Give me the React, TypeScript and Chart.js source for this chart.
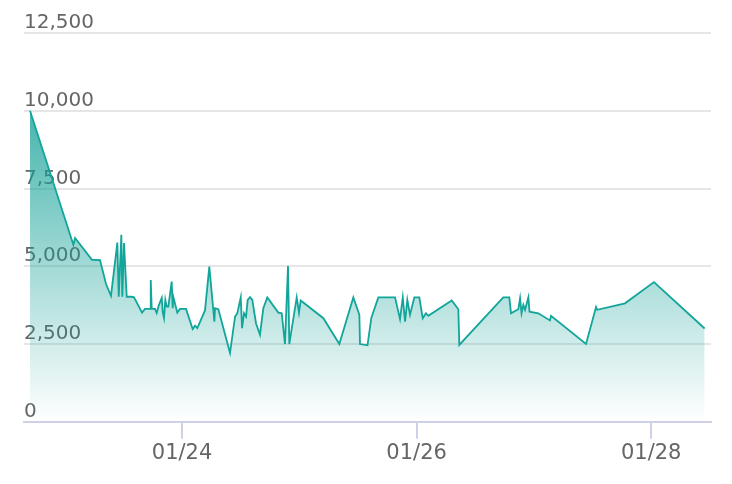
import React, { useEffect, useRef } from "react";
import { Chart, registerables } from "chart.js";

Chart.register(...registerables);

const times: string[] = [
  "2024-01-22T16:54",
  "2024-01-23T01:46", "2024-01-23T02:07", "2024-01-23T05:35", "2024-01-23T07:13", "2024-01-23T08:27",
  "2024-01-23T09:28", "2024-01-23T10:46", "2024-01-23T11:03", "2024-01-23T11:35", "2024-01-23T11:47",
  "2024-01-23T12:08", "2024-01-23T12:41", "2024-01-23T13:43", "2024-01-23T14:11", "2024-01-23T15:49",
  "2024-01-23T16:26", "2024-01-23T17:27", "2024-01-23T17:36", "2024-01-23T17:48", "2024-01-23T18:29",
  "2024-01-23T18:49", "2024-01-23T19:17", "2024-01-23T19:51", "2024-01-23T20:03", "2024-01-23T20:19",
  "2024-01-23T20:35", "2024-01-23T20:52", "2024-01-23T21:12", "2024-01-23T21:53", "2024-01-23T22:06",
  "2024-01-23T22:13", "2024-01-23T23:02", "2024-01-23T23:35",
  "2024-01-24T00:49", "2024-01-24T02:11", "2024-01-24T02:40", "2024-01-24T03:08", "2024-01-24T04:42",
  "2024-01-24T05:35", "2024-01-24T06:37", "2024-01-24T06:45", "2024-01-24T07:26", "2024-01-24T09:49",
  "2024-01-24T10:51", "2024-01-24T11:19", "2024-01-24T12:01", "2024-01-24T12:17", "2024-01-24T12:41",
  "2024-01-24T13:06", "2024-01-24T13:26", "2024-01-24T13:55", "2024-01-24T14:23", "2024-01-24T15:08",
  "2024-01-24T15:57", "2024-01-24T16:38", "2024-01-24T17:27", "2024-01-24T19:42", "2024-01-24T20:24",
  "2024-01-24T21:04", "2024-01-24T21:41", "2024-01-24T21:57", "2024-01-24T23:28", "2024-01-24T23:56",
  "2024-01-25T00:17", "2024-01-25T04:55", "2024-01-25T08:11", "2024-01-25T11:03", "2024-01-25T12:17",
  "2024-01-25T12:25", "2024-01-25T13:57", "2024-01-25T14:44", "2024-01-25T16:10", "2024-01-25T19:35",
  "2024-01-25T20:36", "2024-01-25T21:10", "2024-01-25T21:38", "2024-01-25T22:06", "2024-01-25T22:39",
  "2024-01-25T23:32",
  "2024-01-26T00:33", "2024-01-26T01:15", "2024-01-26T01:55", "2024-01-26T02:23", "2024-01-26T07:11",
  "2024-01-26T08:32", "2024-01-26T08:44", "2024-01-26T17:44", "2024-01-26T18:58", "2024-01-26T19:19",
  "2024-01-26T20:49", "2024-01-26T21:10", "2024-01-26T21:28", "2024-01-26T21:50", "2024-01-26T22:11",
  "2024-01-26T22:52", "2024-01-26T23:06",
  "2024-01-27T00:54", "2024-01-27T03:17", "2024-01-27T03:30", "2024-01-27T10:40", "2024-01-27T12:43",
  "2024-01-27T12:58", "2024-01-27T18:38",
  "2024-01-28T00:34", "2024-01-28T10:56",
];

const values: number[] = [
  10000,
  5690, 5910, 5210, 5200, 4430, 4050, 5760, 4020, 6010, 4020,
  5750, 4020, 4020, 4000, 3510, 3630, 3630, 4560, 3630, 3630,
  3500, 3760, 3980, 3530, 3340, 3920, 3700, 3700, 4510, 3650,
  4020, 3510, 3630,
  3630, 2980, 3090, 3010, 3580, 4990, 3220, 3650, 3620, 2210,
  3380, 3490, 4000, 3010, 3490, 3380, 3920, 4010, 3920, 3170,
  2800, 3650, 4000, 3510, 3490, 2500, 5010, 2500, 4000, 3510,
  3900, 3330, 2500, 4000, 3440, 2500, 2460, 3340, 4000, 4000,
  3300, 4000, 3220, 3920, 3440, 4000,
  4000, 3330, 3490, 3410, 3900, 3620, 2470, 4000, 4000, 3490,
  3620, 3970, 3490, 3760, 3600, 4000, 3540,
  3490, 3260, 3410, 2500, 3690, 3600, 3810,
  4490, 3000,
];

const tickDates: string[] = ["2024-01-24T00:00", "2024-01-26T00:00", "2024-01-28T00:00"];
const xRange: string[] = ["2024-01-22T15:40", "2024-01-28T12:14"];
const yTicks = { min: 0, max: 12500, step: 2500 };

const toMs = (s: string) => Date.parse(s + ":00Z");
const fmtDate = (ms: number) => {
  const d = new Date(ms);
  const mm = String(d.getUTCMonth() + 1).padStart(2, "0");
  const dd = String(d.getUTCDate()).padStart(2, "0");
  return `${mm}/${dd}`;
};

const LINE = "rgb(18,165,154)";
const AXIS = "#ccd1e8";

export default function App() {
  const ref = useRef<HTMLCanvasElement | null>(null);

  useEffect(() => {
    if (!ref.current) return;
    const points = times.map((t, i) => ({ x: toMs(t), y: values[i] }));
    const chart = new Chart(ref.current, {
      type: "line",
      data: {
        datasets: [
          {
            data: points,
            borderColor: LINE,
            borderWidth: 1.8,
            pointRadius: 0,
            tension: 0,
            fill: "origin",
            backgroundColor: (ctx: any) => {
              const area = ctx.chart.chartArea;
              if (!area) return "rgba(18,165,154,0.4)";
              const g = ctx.chart.ctx.createLinearGradient(0, area.top, 0, area.bottom);
              g.addColorStop(0, "rgba(18,160,150,1)");
              g.addColorStop(0.2, "rgba(18,160,150,0.78)");
              g.addColorStop(1, "rgba(18,160,150,0)");
              return g;
            },
          },
        ],
      },
      options: {
        animation: false,
        responsive: true,
        maintainAspectRatio: false,
        layout: { padding: { left: 16, right: 13, top: 25, bottom: 8 } },
        plugins: { legend: { display: false }, tooltip: { enabled: false } },
        scales: {
          x: {
            type: "linear",
            min: toMs(xRange[0]),
            max: toMs(xRange[1]),
            afterBuildTicks: (axis: any) => {
              axis.ticks = tickDates.map((d) => ({ value: toMs(d) }));
            },
            ticks: {
              autoSkip: false,
              maxRotation: 0,
              padding: 2,
              color: "#666",
              font: { family: "DejaVu Sans", size: 21 },
              callback: (v: any) => fmtDate(Number(v)),
            },
            grid: {
              drawOnChartArea: false,
              drawTicks: true,
              tickLength: 17,
              color: AXIS,
              lineWidth: 2,
            },
            border: { display: true, color: AXIS, width: 2 },
          },
          y: {
            min: yTicks.min,
            max: yTicks.max,
            ticks: {
              stepSize: yTicks.step,
              mirror: true,
              padding: 0,
              labelOffset: -10,
              color: "#666",
              font: { family: "DejaVu Sans", size: 20 },
              callback: (v: any) => Number(v).toLocaleString("en-US"),
            },
            grid: { drawTicks: false, color: "#e6e6e6", lineWidth: 2 },
            border: { display: false },
          },
        },
      },
    });
    return () => chart.destroy();
  }, []);

  return (
    <div style={{ width: 716, height: 468, position: "relative" }}>
      <canvas ref={ref} />
    </div>
  );
}
